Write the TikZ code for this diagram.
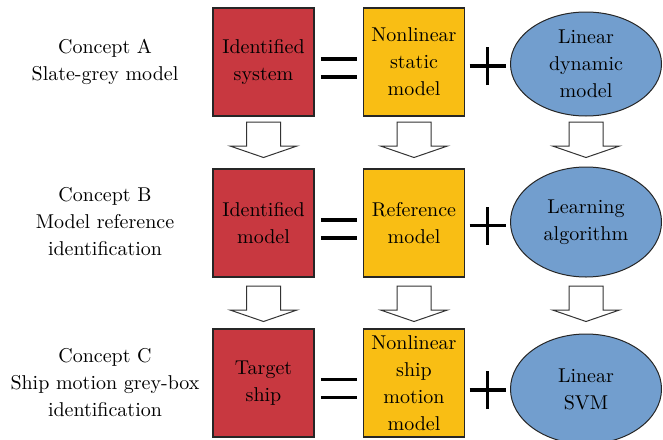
\documentclass[tikz,border=0pt]{standalone}
\usetikzlibrary{calc,shapes.geometric}

\definecolor{idred}{RGB}{200,56,64}
\definecolor{refyellow}{RGB}{249,190,20}
\definecolor{learnblue}{RGB}{114,158,206}

\tikzset{
  box/.style={draw=black!85, line width=0.6pt, minimum width=50.5pt, minimum height=54pt,
    inner sep=0pt, align=center},
  idbox/.style={box, fill=idred},
  refbox/.style={box, fill=refyellow},
  learn/.style={ellipse, draw=black!85, line width=0.5pt, fill=learnblue, minimum width=75.5pt,
    minimum height=55pt, inner sep=0pt, align=center},
  concept/.style={align=center},
  blockarr/.style={draw=black!80, line width=0.5pt, fill=white},
  sign/.style={line width=1.75pt}
}

% hollow arrow pointing down, top centre at #1
\newcommand{\downblock}[1]{%
  \draw[blockarr] (#1) ++(-8.5pt,0) -- ++(0,-12pt) -- ++(-8.25pt,0) -- ++(16.75pt,-5.75pt)
    -- ++(16.75pt,5.75pt) -- ++(-8.25pt,0) -- ++(0,12pt) -- cycle;}

\begin{document}
\begin{tikzpicture}[x=0.5pt, y=-0.5pt, font=\fontsize{10}{13.5}\selectfont]
\useasboundingbox (0,0) rectangle (663,439);

% row A
\node[concept] (cA) at (105,62) {Concept A\\Slate-grey model};
\node[idbox] (r1) at (263.5,62) {Identified\\system};
\node[refbox] (y1) at (414,62) {Nonlinear\\static\\model};
\node[learn, minimum height=52pt] (e1) at (586,64) {Linear\\dynamic\\model};

% row B
\node[concept] (cB) at (105,222) {Concept B\\Model reference\\identification};
\node[idbox] (r2) at (263.5,223) {Identified\\model};
\node[refbox] (y2) at (414,223) {Reference\\model};
\node[learn] (e2) at (586,222) {Learning\\algorithm};

% row C
\node[concept] (cC) at (105,383) {Concept C\\Ship motion grey-box\\identification};
\node[idbox] (r3) at (263.5,383) {Target\\ship};
\node[refbox] (y3) at (414,383) {Nonlinear\\ship\\motion\\model};
\node[learn] (e3) at (586,389) {Linear\\SVM};

% = and + between the blocks
\foreach \a/\b/\c/\dy/\py in {r1/y1/e1/6/3, r2/y2/e2/6/3, r3/y3/e3/5.5/4} {
  \coordinate (eq) at ($(\a.east)!0.5!(\b.west)+(0,\dy)$);
  \draw[sign] ([shift={(-9pt,4.4pt)}]eq) -- ([shift={(9pt,4.4pt)}]eq);
  \draw[sign] ([shift={(-9pt,-4.4pt)}]eq) -- ([shift={(9pt,-4.4pt)}]eq);
  \coordinate (pl) at ($(\b.east)!0.5!(\c.west)+(0,\py)$);
  \draw[sign] ([xshift=-9pt]pl) -- ([xshift=9pt]pl);
  \draw[sign] ([yshift=-9.5pt]pl) -- ([yshift=9.5pt]pl);
}

% arrows between the rows
\foreach \n in {r1,y1} \downblock{\n.south |- 0,122};
\downblock{e1.south |- 0,122}
\foreach \n in {r2,y2,e2} \downblock{\n.south |- 0,286};
\end{tikzpicture}
\end{document}
